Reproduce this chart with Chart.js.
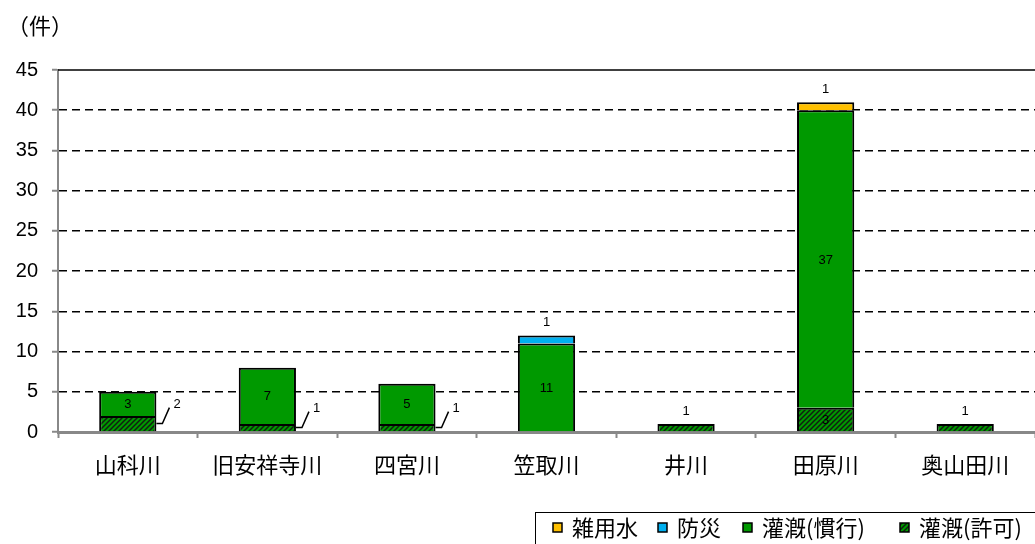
<!DOCTYPE html>
<html><head><meta charset="utf-8">
<script src="https://cdn.jsdelivr.net/npm/chart.js@4/dist/chart.umd.min.js"></script>
<style>html,body{margin:0;padding:0;background:#fff;} canvas{display:block;}</style>
</head><body>
<canvas id="c" width="1035" height="544"></canvas>
<script>
// ---- data ----
const categories = ['山科川','旧安祥寺川','四宮川','笠取川','井川','田原川','奥山田川'];
const irrigationPermitted = [2,1,1,0,1,3,1];     // 灌漑(許可)
const irrigationCustomary = [3,7,5,11,0,37,0];   // 灌漑(慣行)
const disasterPrevention  = [0,0,0,1,0,0,0];     // 防災
const miscWater           = [0,0,0,0,0,1,0];     // 雑用水
const seriesNames = ['灌漑(許可)','灌漑(慣行)','防災','雑用水'];
const yMax = 45, yStep = 5;
const unitLabel = '（件）';

const JP = "'Noto Sans CJK JP', sans-serif";
const NUM = "'Liberation Sans', Arial, sans-serif";
const GREEN = '#009900';

function makeHatch(){
  const s = 5, c = document.createElement('canvas');
  c.width = s; c.height = s;
  const g = c.getContext('2d');
  g.fillStyle = GREEN; g.fillRect(0,0,s,s);
  g.strokeStyle = '#102010'; g.lineWidth = 1.5;
  g.beginPath();
  g.moveTo(0,s); g.lineTo(s,0);
  g.moveTo(-1,1); g.lineTo(1,-1);
  g.moveTo(s-1,s+1); g.lineTo(s+1,s-1);
  g.stroke();
  return g.createPattern(c,'repeat');
}
const hatch = makeHatch();
const nz = a => a.map(v => v ? v : null);

const seriesData = [irrigationPermitted, irrigationCustomary, disasterPrevention, miscWater];
const seriesColors = [hatch, GREEN, '#00B0F0', '#FFC000'];

const datasets = seriesData.map((d,i) => ({
  label: seriesNames[i],
  data: nz(d),
  backgroundColor: seriesColors[i],
  borderColor: '#000',
  borderWidth: { top: 2, left: 2, right: 2, bottom: 0 },
  borderSkipped: false,
  categoryPercentage: 1,
  barPercentage: 0.41
}));

const labelPlugin = {
  id: 'labels',
  beforeDatasetsDraw(chart){
    const {ctx, chartArea, scales:{y}} = chart;
    const py = Math.round(y.getPixelForValue(yMax));
    ctx.save();
    ctx.strokeStyle = '#000'; ctx.lineWidth = 1.5;
    ctx.beginPath(); ctx.moveTo(chartArea.left, py); ctx.lineTo(chartArea.right, py); ctx.stroke();
    ctx.restore();
  },
  afterDatasetsDraw(chart){
    const {ctx} = chart;
    ctx.save();
    ctx.fillStyle = '#000';
    ctx.font = '13px ' + NUM;
    ctx.textAlign = 'center'; ctx.textBaseline = 'middle';
    chart.data.datasets.forEach((ds, i) => {
      const meta = chart.getDatasetMeta(i);
      ds.data.forEach((v, j) => {
        if (!v) return;
        const el = meta.data[j];
        const p = el.getProps(['x','y','base','width'], true);
        const h = p.base - p.y;
        const mid = (p.y + p.base) / 2;
        let top = true;
        for (let k = i+1; k < chart.data.datasets.length; k++) if (chart.data.datasets[k].data[j]) top = false;
        if (h >= 20) {
          ctx.textAlign = 'center';
          ctx.fillText(String(v), p.x, mid + 1);
        } else if (top) {
          ctx.textAlign = 'center';
          ctx.fillText(String(v), p.x, p.y - 13);
        } else {
          const xr = p.x + p.width/2;
          ctx.strokeStyle = '#000'; ctx.lineWidth = 1.5;
          ctx.beginPath();
          ctx.moveTo(xr, mid); ctx.lineTo(xr + 6, mid); ctx.lineTo(xr + 13, mid - 16);
          ctx.stroke();
          ctx.textAlign = 'left';
          ctx.fillText(String(v), xr + 17, mid - 19);
        }
      });
    });
    ctx.restore();
  },
  afterDraw(chart){
    const {ctx} = chart;
    ctx.save();
    // unit label
    ctx.fillStyle = '#000';
    ctx.font = '22px ' + JP;
    ctx.textAlign = 'left'; ctx.textBaseline = 'middle';
    ctx.fillText(unitLabel, 7, 26);
    // legend
    ctx.strokeStyle = '#000'; ctx.lineWidth = 1;
    ctx.strokeRect(535.5, 512.5, 510, 40);
    const xs = [553, 658, 743, 900];
    const order = [3,2,1,0];
    order.forEach((di, n) => {
      const ds = chart.data.datasets[di];
      const x = xs[n];
      ctx.fillStyle = ds.backgroundColor;
      ctx.fillRect(x, 523, 9, 9);
      ctx.lineWidth = 1.5; ctx.strokeStyle = '#000';
      ctx.strokeRect(x, 523, 9, 9);
      ctx.fillStyle = '#000';
      ctx.font = '22px ' + JP;
      ctx.textBaseline = 'middle';
      ctx.fillText(ds.label, x + 19, 528);
    });
    ctx.restore();
  }
};

new Chart(document.getElementById('c'), {
  type: 'bar',
  data: { labels: categories, datasets },
  options: {
    responsive: false,
    animation: false,
    events: [],
    layout: { padding: { top: 70, right: 0, bottom: 0, left: 0 } },
    plugins: { legend: { display: false }, tooltip: { enabled: false } },
    scales: {
      x: {
        stacked: true,
        z: 1,
        afterFit(s){ s.height = 112; },
        grid: { drawOnChartArea: false, drawTicks: true, tickLength: 6, tickColor: '#888', tickWidth: 2, offset: true },
        border: { display: true, color: '#888', width: 3 },
        ticks: { color: '#000', font: { family: JP, size: 22 }, padding: 13, maxRotation: 0, autoSkip: false }
      },
      y: {
        stacked: true,
        min: 0, max: yMax,
        afterFit(s){ s.width = 58; },
        grid: {
          color: c => (c.tick && c.tick.value === yMax) ? 'rgba(0,0,0,0)' : '#000',
          lineWidth: 1.5, tickLength: 6, tickColor: '#888', tickWidth: 2, tickBorderDash: []
        },
        border: { display: true, color: '#888', width: 2, dash: [8,5] },
        ticks: { stepSize: yStep, color: '#000', font: { family: NUM, size: 20 }, padding: 14 }
      }
    }
  },
  plugins: [labelPlugin]
});
</script>
</body></html>
